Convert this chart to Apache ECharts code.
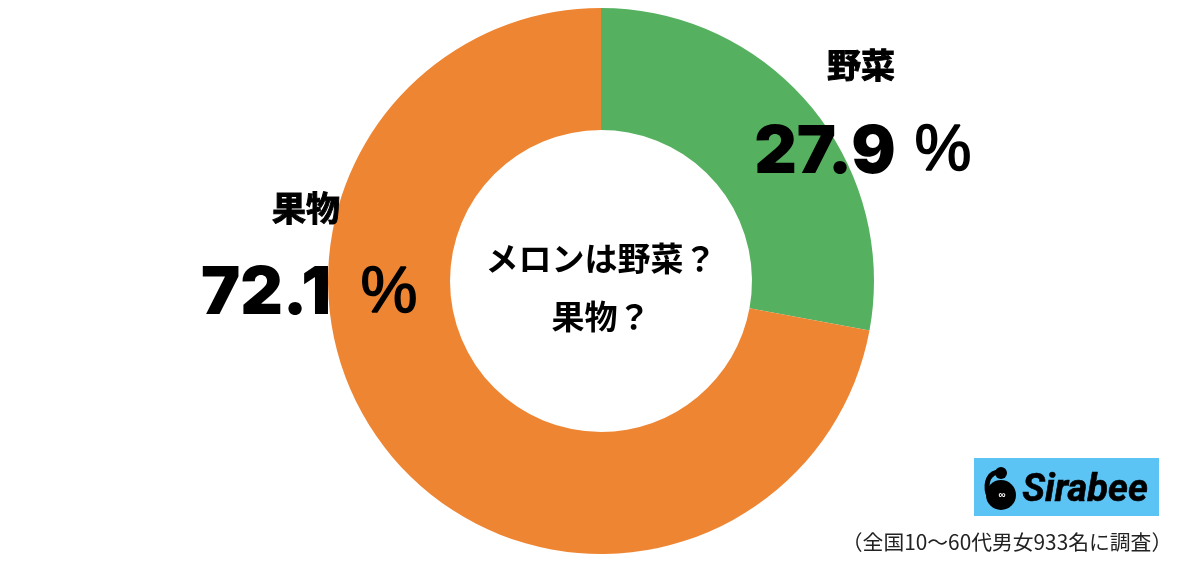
<!DOCTYPE html>
<html>
<head>
<meta charset="utf-8">
<script src="https://cdn.jsdelivr.net/npm/echarts@6/dist/echarts.min.js"></script>
<style>
  html, body { margin: 0; padding: 0; background: #fff; }
  #chart { width: 1200px; height: 562px; }
</style>
</head>
<body>
<div id="chart"></div>
<script>
const categories = ["野菜", "果物"];
const values = [27.9, 72.1];
const colors = ["#55b15f", "#ee8533"];
const cjk = '"Noto Sans CJK JP", sans-serif';
const num = 'Inter, "Liberation Sans", sans-serif';
const sans = '"Liberation Sans", Arial, sans-serif';

const chart = echarts.init(document.getElementById("chart"));

// 凡例がわりのラベルは graphic で置く
function label(x, y, text, size, font, weight, stroke, fill) {
  return {
    type: "text",
    z: 10,
    style: {
      x: x,
      y: y,
      text: text,
      fontSize: size,
      fontFamily: font,
      fontWeight: weight,
      fill: fill || "#000",
      stroke: stroke ? fill || "#000" : null,
      lineWidth: stroke || 0,
      align: "center",
      verticalAlign: "middle",
    },
  };
}

chart.setOption({
  animation: false,
  backgroundColor: "#ffffff",
  series: [
    {
      type: "pie",
      center: [601, 281],
      radius: [151, 273],
      startAngle: 90,
      clockwise: true,
      silent: true,
      label: { show: false },
      labelLine: { show: false },
      data: categories.map((name, i) => ({
        name: name,
        value: values[i],
        itemStyle: { color: colors[i] },
      })),
    },
  ],
  graphic: [
    label(861, 65, categories[0], 34, cjk, "bold", 1),
    label(825, 153, values[0].toFixed(1), 66, num, 900, 0),
    label(943, 152, "%", 64, sans, "normal", 1.5),
    label(306, 208, categories[1], 34, cjk, "bold", 1),
    label(266, 294, values[1].toFixed(1), 66, num, 900, 0),
    label(389, 294, "%", 64, sans, "normal", 1.5),
    label(601, 258, "メロンは野菜？", 33, cjk, "bold"),
    label(601, 316, "果物？", 33, cjk, "bold"),
    // Sirabee ロゴ
    {
      type: "rect",
      shape: { x: 974, y: 458, width: 185, height: 58 },
      style: { fill: "#5bc4f5" },
    },
    {
      type: "circle",
      shape: { cx: 1001, cy: 495, r: 15 },
      style: { fill: "#000" },
    },
    {
      type: "circle",
      shape: { cx: 1001, cy: 473, r: 6 },
      style: { fill: "#000" },
    },
    {
      type: "bezierCurve",
      shape: { x1: 1000, y1: 472, cpx1: 989, cpy1: 472, x2: 988, y2: 494, cpx2: 985, cpy2: 482 },
      style: { stroke: "#000", lineWidth: 5, fill: null },
    },
    label(1002, 495, "∞", 10, sans, "bold", 0, "#fff"),
    {
      type: "text",
      z: 10,
      style: {
        x: 1085,
        y: 491,
        text: "Sirabee",
        fontSize: 38,
        fontFamily: "Roboto, sans-serif",
        fontWeight: "bold",
        fontStyle: "italic",
        fill: "#000",
        stroke: "#000",
        lineWidth: 0.6,
        align: "center",
        verticalAlign: "middle",
      },
    },
    label(1007, 542, "（全国10〜60代男女933名に調査）", 20.8, cjk, "normal", 0, "#222"),
  ],
});
</script>
</body>
</html>
